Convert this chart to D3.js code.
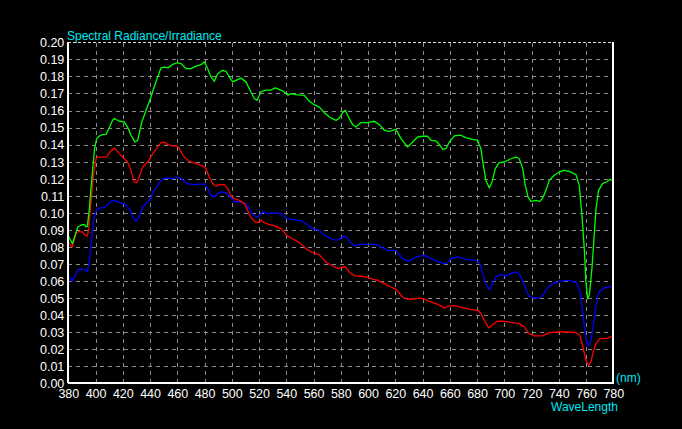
<!DOCTYPE html>
<html>
<head>
<meta charset="utf-8">
<script src="https://cdn.jsdelivr.net/npm/d3@7"></script>
<style>
  html, body { margin: 0; padding: 0; background: #000; }
  svg { display: block; }
</style>
</head>
<body>
<svg id="chart" width="682" height="429"></svg>
<script>
const xTicks = d3.range(380, 781, 20);
const yTicks = d3.range(0, 0.2001, 0.01);

const greenWl = [380,383,387,390,392,393,394,395.4,396.6,397.9,399.3,400.8,402.8,405,407.6,409.6,412.5,413.8,417.4,421,423.5,426,429,430.9,434,437,440.7,443,445.6,448,450.5,453,456.6,460,462.7,466.4,470,473.7,477.4,479.8,482.3,484.7,487.2,489.6,493.3,495.7,498.2,500.6,503,506.7,510.4,514,516.5,518.5,521.4,525,528.7,531.9,536,538.5,541.2,543.4,547,553.2,556.9,560.5,564.2,568,571.6,576.5,578.9,581.3,583.3,586.2,588.7,591.1,594.8,599.7,604.6,608.3,612,615.6,620.5,624.2,629,631.5,636.4,640,643.7,646.2,649.9,652.8,654.8,657.2,659.6,663.3,668,671.8,676.6,680.4,682.8,684.6,686.5,689,691,693.4,696.3,700,704.9,708.6,711,713.5,715.4,717.4,719.6,723.2,726.2,728.6,731,733,736.7,740.4,743.3,747.7,752.6,755,757,758.7,759.9,761.2,762.4,764.3,766,767.3,769.2,772.2,775.8,777.6,780];
const greenVal = [0.0864,0.0819,0.0917,0.093,0.093,0.0917,0.092,0.102,0.114,0.126,0.1377,0.1435,0.145,0.1459,0.146,0.149,0.1543,0.1553,0.1537,0.1533,0.1503,0.1455,0.1415,0.1425,0.1533,0.160,0.1679,0.1738,0.1797,0.185,0.1855,0.185,0.187,0.188,0.1875,0.1846,0.1846,0.186,0.1869,0.1885,0.1846,0.1797,0.1771,0.1816,0.1836,0.183,0.1797,0.1768,0.1777,0.179,0.1768,0.1709,0.167,0.166,0.1709,0.172,0.172,0.1733,0.172,0.1709,0.169,0.1699,0.1693,0.1689,0.1654,0.1634,0.162,0.1587,0.1562,0.1542,0.1556,0.1587,0.1601,0.1552,0.1517,0.1503,0.1529,0.1529,0.1537,0.1517,0.1484,0.1478,0.1489,0.1435,0.1386,0.1405,0.1445,0.1449,0.1449,0.1425,0.1421,0.1396,0.1372,0.1376,0.1415,0.1451,0.1455,0.1441,0.1431,0.1425,0.1376,0.1279,0.1191,0.1146,0.1181,0.1259,0.1294,0.1298,0.1317,0.1327,0.1317,0.1259,0.1161,0.1093,0.1067,0.1073,0.1067,0.1093,0.1142,0.119,0.122,0.1239,0.1249,0.1243,0.1224,0.1161,0.0985,0.0789,0.0594,0.0497,0.0516,0.0672,0.0868,0.1024,0.1132,0.1171,0.1185,0.1197,0.1185];

const redWl = [380,383,385.6,387.6,390.5,392.5,394,395,396,397,398,399,400.3,401.5,405.2,408,410.6,413.8,417.4,421,423.5,426,428.4,430.2,432,434.6,438.2,442,445.6,448,450.5,453,456.6,460,461.5,465,468.8,473.7,478.6,481,483.5,486,488.4,490.8,494.5,497,499.4,501.8,505.5,509.2,511.6,514,516.5,519,521.4,523.9,527.5,532.4,536,540.6,544.6,549.5,554.4,559.3,564.2,569,574,578.4,580.9,583.3,586.2,590,594.8,598.5,602.1,607,612,616.8,620.5,625.4,629,633.9,637.6,641.3,645,649.8,653.5,656,659.6,664.5,669.4,675.5,680.4,682.9,685.3,688.5,691.4,695,698.8,702.7,706.1,711,714.7,717.9,722,728,733,740.4,746.5,752.6,755.5,758,759.9,761.9,763.6,765.3,767.3,770.2,774.6,780];
const redVal = [0.0825,0.0800,0.0877,0.0891,0.0887,0.0868,0.0864,0.0907,0.1004,0.1092,0.119,0.1249,0.1318,0.1327,0.1327,0.1327,0.1357,0.138,0.1347,0.1318,0.1298,0.1249,0.1181,0.1177,0.121,0.1269,0.1298,0.1347,0.1386,0.1412,0.1415,0.14,0.1392,0.1392,0.1376,0.1327,0.1302,0.1288,0.1275,0.1259,0.121,0.117,0.1157,0.1165,0.1165,0.1142,0.1102,0.1083,0.1073,0.1054,0.1014,0.0975,0.095,0.0942,0.0956,0.0942,0.093,0.0922,0.0907,0.0866,0.0848,0.0825,0.079,0.0766,0.0755,0.0711,0.0688,0.0673,0.0682,0.0682,0.0653,0.063,0.0628,0.0624,0.0614,0.0604,0.0585,0.0565,0.0551,0.0506,0.0493,0.0496,0.05,0.0493,0.0481,0.0467,0.0454,0.0442,0.0454,0.0454,0.0444,0.0432,0.0428,0.0409,0.037,0.0325,0.0344,0.0364,0.0364,0.036,0.0356,0.035,0.0331,0.0292,0.0278,0.0278,0.0297,0.0301,0.0301,0.0297,0.0282,0.0203,0.0135,0.0106,0.0125,0.0184,0.0233,0.0262,0.0262,0.0278];

const blueWl = [380,382.7,385,387.6,391.7,394,395.4,396.6,397.9,399,400.8,402.8,406.4,408.9,412.5,415,418.6,422.3,425.3,427.2,429.7,432,434.6,438.2,440.7,443,446.3,449.2,453,456.6,460,462.7,467.6,473.7,479.8,482.3,484.7,487.2,489.6,492,495.7,498.2,501.8,506.7,510.4,512.8,515.8,519,522.6,526.3,531.2,536,540.6,544.6,550.8,555.7,559.3,564.2,568,571.6,576.5,578.9,580.9,583.8,586.2,590,593.6,601,605.8,609.5,614.4,620.5,625.4,629.8,635.2,641.3,647.4,652.3,657.2,660.9,665.8,671.8,679.2,682.1,684.6,687,689,691.4,693.9,697.5,701.2,704.9,708.6,711.5,714.7,717.9,722,725.7,728.6,731.8,735.5,740.4,746.5,752.6,755.5,757.5,759,760.4,761.9,763.6,765.3,767.3,769.7,773.4,777,780];
const blueVal = [0.0633,0.0598,0.0633,0.0668,0.0668,0.0653,0.0711,0.0809,0.0907,0.0975,0.1015,0.1028,0.103,0.1048,0.1073,0.1069,0.1057,0.1048,0.1015,0.0975,0.0952,0.0975,0.1034,0.1063,0.1093,0.1132,0.117,0.12,0.1204,0.12,0.121,0.12,0.117,0.1165,0.117,0.1142,0.1102,0.1093,0.1112,0.1122,0.1118,0.1099,0.1067,0.1063,0.1054,0.102,0.0985,0.0975,0.1005,0.0995,0.1,0.0995,0.0964,0.0962,0.0952,0.093,0.0907,0.0897,0.0868,0.0852,0.0839,0.0845,0.0858,0.0862,0.0833,0.0805,0.0815,0.0815,0.0815,0.08,0.078,0.078,0.0731,0.0715,0.0741,0.075,0.0727,0.0711,0.0702,0.0731,0.0741,0.0727,0.0721,0.0702,0.0633,0.0575,0.0551,0.0585,0.0624,0.0637,0.063,0.0643,0.0653,0.0637,0.0575,0.0512,0.05,0.05,0.052,0.0559,0.0585,0.0598,0.0604,0.0594,0.0545,0.0418,0.032,0.0242,0.0219,0.0252,0.034,0.0457,0.0539,0.0559,0.0565,0.0571];

const series = [
  { name: "blue",  wl: blueWl,  val: blueVal,  color: "#0000ff" },
  { name: "red",   wl: redWl,   val: redVal,   color: "#ff0000" },
  { name: "green", wl: greenWl, val: greenVal, color: "#00ff00" }
];

(function draw() {
const svg = d3.select("#chart");
const pL = 68.3, pR = 613.3, pT = 42.3, pB = 383.3;
const W = pR - pL, H = pB - pT;

const x = d3.scaleLinear().domain([380, 780]).range([pL, pR]);
const y = d3.scaleLinear().domain([0, 0.20]).range([pB, pT]);

svg.append("rect").attr("width", 682).attr("height", 429).attr("fill", "#000");

const font = "'Liberation Sans Narrow', 'Liberation Sans', Arial, sans-serif";
const cyan = "#00e8f0";

// horizontal grid
const gy = svg.append("g").attr("transform", `translate(${pL},0)`)
  .call(d3.axisLeft(y).tickValues(yTicks.slice(1, -1)).tickSize(-W).tickFormat(""));
gy.select(".domain").remove();
gy.selectAll("line").attr("stroke", "#8c8c8c").attr("stroke-dasharray", "4,4").attr("shape-rendering", "crispEdges");

// vertical grid
const gx = svg.append("g").attr("transform", `translate(0,${pB})`)
  .call(d3.axisBottom(x).tickValues(xTicks.slice(1, -1)).tickSize(-H).tickFormat(""));
gx.select(".domain").remove();
gx.selectAll("line").attr("stroke", "#8c8c8c").attr("stroke-dasharray", "4,4").attr("shape-rendering", "crispEdges");

// top border (dashed white)
svg.append("line").attr("x1", pL).attr("x2", pR).attr("y1", y(0.20)).attr("y2", y(0.20))
  .attr("stroke", "#dcdcdc").attr("stroke-dasharray", "3,2").attr("shape-rendering", "crispEdges");

// lines
const line = d3.line().x(d => x(d[0])).y(d => y(d[1]));
series.forEach(s => {
  const pts = s.wl.map((w, i) => [w, s.val[i]]);
  svg.append("path").datum(pts).attr("d", line)
    .attr("fill", "none").attr("stroke", s.color).attr("stroke-width", 1.3)
    .attr("stroke-linejoin", "round");
});

// axes (white solid)
svg.append("line").attr("x1", pL).attr("x2", pL).attr("y1", pT).attr("y2", pB)
  .attr("stroke", "#fff").attr("stroke-width", 2).attr("shape-rendering", "crispEdges");
svg.append("line").attr("x1", pL).attr("x2", pR + 1).attr("y1", pB).attr("y2", pB)
  .attr("stroke", "#fff").attr("stroke-width", 2).attr("shape-rendering", "crispEdges");
svg.append("line").attr("x1", pR).attr("x2", pR).attr("y1", pT).attr("y2", pB)
  .attr("stroke", "#fff").attr("stroke-width", 2).attr("shape-rendering", "crispEdges");

// y tick labels
const ya = svg.append("g").attr("transform", `translate(${pL - 4},0)`)
  .call(d3.axisLeft(y).tickValues(yTicks).tickSize(0).tickPadding(0).tickFormat(d3.format(".2f")));
ya.select(".domain").remove();
ya.selectAll("text").attr("fill", "#fff").style("font-family", font).style("font-size", "12.5px").attr("dy", "0.35em");

// x tick labels
const xa = svg.append("g").attr("transform", `translate(0,${pB + 5})`)
  .call(d3.axisBottom(x).tickValues(xTicks).tickSize(0).tickPadding(0).tickFormat(d3.format("d")));
xa.select(".domain").remove();
xa.selectAll("text").attr("fill", "#fff").style("font-family", font).style("font-size", "12.5px").attr("dy", "0.75em");

// titles
svg.append("text").attr("x", 67).attr("y", 40).attr("fill", cyan)
  .style("font-family", "'Liberation Sans', Arial, sans-serif").style("font-size", "12px")
  .text("Spectral Radiance/Irradiance");
svg.append("text").attr("x", 616).attr("y", 382).attr("fill", cyan)
  .style("font-family", "'Liberation Sans', Arial, sans-serif").style("font-size", "12px")
  .text("(nm)");
svg.append("text").attr("x", 551).attr("y", 411).attr("fill", cyan)
  .style("font-family", "'Liberation Sans', Arial, sans-serif").style("font-size", "12px")
  .text("WaveLength");
})();
</script>
</body>
</html>
